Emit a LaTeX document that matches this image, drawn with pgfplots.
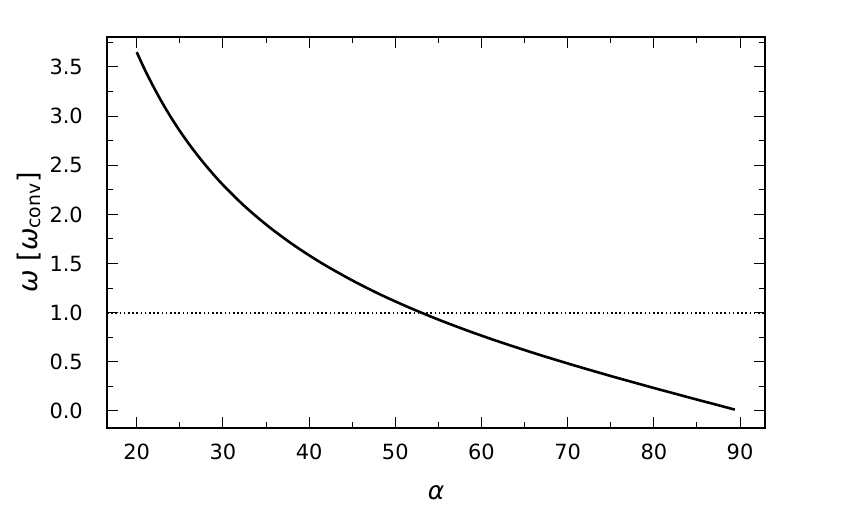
\documentclass[border=0pt]{standalone}
\usepackage{fontspec}
\setmainfont{DejaVu Sans}
\usepackage{pgfplots}
\pgfplotsset{compat=1.18}

\begin{document}
\begin{tikzpicture}
  \begin{axis}[
    scale only axis,
    width=658bp,
    height=391bp,
    xmin=16.55, xmax=92.9,
    ymin=-0.173, ymax=3.805,
    xtick={20,30,...,90},
    minor xtick={25,35,...,85},
    ytick={0,0.5,...,3.5},
    minor ytick={0.25,0.75,...,3.75},
    tick align=inside,
    xtick pos=both, ytick pos=both,
    major tick length=11bp,
    minor tick length=6bp,
    tick style={line width=1bp, black},
    axis line style={line width=1.3bp},
    /pgf/number format/assume math mode=true,
    yticklabel style={/pgf/number format/fixed,
      /pgf/number format/fixed zerofill,
      /pgf/number format/precision=1, anchor=east, inner sep=0pt},
    tick label style={font=\fontsize{21}{25}\selectfont},
    xticklabel style={anchor=north, inner sep=0pt},
    yticklabel shift=24bp,
    xticklabel shift=16bp,
    xlabel={\itshape α},
    ylabel={{\itshape ω} [{\itshape ω}\textsubscript{conv}]},
    xlabel style={font=\fontsize{25}{30}\selectfont,
      at={(axis description cs:0.5,0)}, anchor=center, yshift=-65bp},
    ylabel style={font=\fontsize{27}{32}\selectfont,
      at={(axis description cs:-0.1185,0.5)}, anchor=center},
    clip=false,
  ]
    \addplot[line width=2.6bp, black, smooth] coordinates {
      (20,3.651) (21,3.461) (22,3.289) (23,3.130) (24,2.984) (25,2.849)
      (26,2.724) (27,2.608) (28,2.499) (29,2.397) (30,2.301) (32,2.126)
      (33,2.046) (34,1.970) (35,1.898) (36,1.829) (38,1.701) (40,1.584)
      (42,1.476) (45,1.329) (48,1.196) (50,1.115) (52,1.038) (55,0.930)
      (58,0.830) (60,0.767) (62,0.706) (65,0.620) (67,0.564) (70,0.484)
      (72,0.432) (75,0.356) (77,0.307) (80,0.234) (82,0.187) (85,0.116)
      (87,0.070) (89.4,0.014)
    };
    \addplot[line width=1.6bp, black, dash pattern=on 1.6bp off 2.6bp]
      coordinates {(16.55,1) (92.9,1)};
  \end{axis}
  \path[use as bounding box] (current axis.south west) ++(-107bp,-81bp) rectangle ++(850bp,509bp);
\end{tikzpicture}
\end{document}
